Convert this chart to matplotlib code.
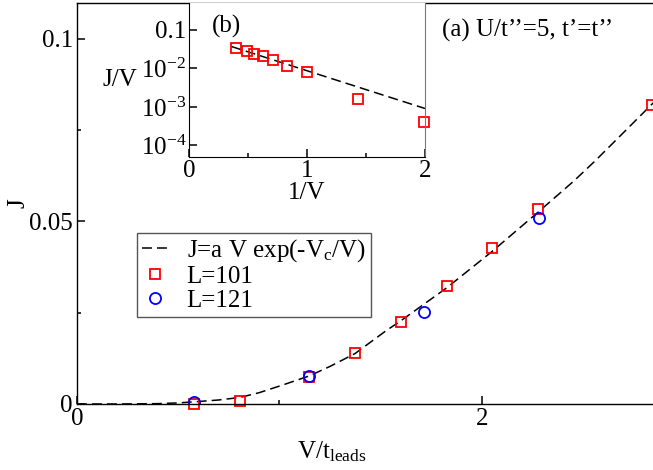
import numpy as np
import matplotlib
matplotlib.use('Agg')
import matplotlib.pyplot as plt
from matplotlib.lines import Line2D

plt.rcParams['font.family'] = ['Liberation Serif', 'DejaVu Serif']
plt.rcParams['mathtext.fontset'] = 'custom'
plt.rcParams['mathtext.rm'] = 'Liberation Serif'
plt.rcParams['mathtext.it'] = 'Liberation Serif:italic'
plt.rcParams['font.size'] = 18

# main panel data (V/t_leads, J)
V_101 = [0.58, 0.806, 1.148, 1.373, 1.60, 1.826, 2.051, 2.277, 2.84]
J_101 = [0.0001, 0.0009, 0.0073, 0.0139, 0.0225, 0.0323, 0.0426, 0.0535, 0.0819]
V_121 = [0.58, 1.148, 1.714, 2.281]
J_121 = [0.0006, 0.0077, 0.0253, 0.0510]

# dashed fit curve
fit_V = [0.0, 0.2, 0.4, 0.5, 0.58, 0.7, 0.806, 0.9, 1.016, 1.148, 1.25, 1.373,
         1.525, 1.6, 1.826, 2.051, 2.277, 2.453, 2.56, 2.86]
fit_J = [0.0, 0.0, 0.0001, 0.0003, 0.0006, 0.0011, 0.0018, 0.0031, 0.0052, 0.0077,
         0.0103, 0.0138, 0.0200, 0.0228, 0.0318, 0.0418, 0.0525, 0.0610, 0.0666, 0.0832]

# inset data (1/V, J/V)
invV = [0.397, 0.493, 0.552, 0.623, 0.708, 0.834, 1.0, 1.434, 1.99]
JV = [0.0336, 0.0275, 0.0235, 0.0204, 0.0168, 0.0119, 0.00787, 0.00161, 0.00041]
inset_fit_x = [0.36, 2.0]
inset_fit_y = [0.037, 0.00091]

W, H = 653, 470
fs = 18
fig = plt.figure(figsize=(W / 100, H / 100), dpi=100)

dash = (0, (6.5, 3.3))
ax = fig.add_axes([77 / W, 66 / H, 579 / W, 401 / H])
ax.plot(fit_V, fit_J, color='black', lw=1.1, linestyle=dash)
ax.plot(V_101, J_101, 's', ms=7.5, mfc='none', mec='red', mew=1.3, clip_on=False)
ax.plot(V_121, J_121, 'o', ms=8, mfc='none', mec='blue', mew=1.3)
ax.set_xlim(0, 2.86)
ax.set_ylim(0, 0.1098)
ax.set_xticks([0, 2])
ax.set_xticklabels(['0', '2'])
ax.set_xticks([1], minor=True)
ax.set_yticks([0, 0.05, 0.1])
ax.set_yticklabels(['0', '0.05', '0.1'])
ax.set_yticks([0.025, 0.075], minor=True)
ax.tick_params(which='both', direction='in', width=1.1, labelsize=fs)
ax.tick_params(which='major', length=6, pad=3)
ax.tick_params(which='minor', length=3)
for s in ax.spines.values():
    s.set_linewidth(1.0)
ax.set_xlabel(r'V/t$_\mathrm{leads}$', fontsize=fs)
ax.xaxis.set_label_coords(0.44, -0.088)
ax.set_ylabel('J', fontsize=fs, labelpad=0)

fig.text(442 / W, 1 - 37 / H, '(a) U/t\u2019\u2019=5, t\u2019=t\u2019\u2019', fontsize=fs,
         ha='left', va='baseline')

handles = [Line2D([], [], color='black', lw=1.1, linestyle=dash),
           Line2D([], [], marker='s', ls='none', ms=7.5, mfc='none', mec='red', mew=1.3),
           Line2D([], [], marker='o', ls='none', ms=8, mfc='none', mec='blue', mew=1.3)]
labels = [r'J=a V exp(-V$_\mathrm{c}$/V)', 'L=101', 'L=121']
leg = fig.legend(handles, labels, loc='upper left', bbox_to_anchor=(136.7 / W, 1 - 232.5 / H),
                 borderaxespad=0, fancybox=False, framealpha=1, edgecolor='#555555',
                 handlelength=1.1, handletextpad=0.7, labelspacing=0.05, borderpad=0.2,
                 fontsize=fs)
leg.get_frame().set_linewidth(1.0)

# inset
ax_in = fig.add_axes([189 / W, (H - 157) / H, 236 / W, 154 / H])
ax_in.semilogy(inset_fit_x, inset_fit_y, color='black', lw=1.1, linestyle=dash)
ax_in.semilogy(invV, JV, 's', ms=7.5, mfc='none', mec='red', mew=1.3, clip_on=False)
ax_in.set_xlim(0, 2)
ax_in.set_ylim(5e-5, 0.5)
ax_in.set_xticks([0, 1, 2])
ax_in.set_xticks([0.5, 1.5], minor=True)
ax_in.set_yticks([1e-1, 1e-2, 1e-3, 1e-4])
ax_in.set_yticklabels(['0.1', r'$10^{-2}$', r'$10^{-3}$', r'$10^{-4}$'])
ax_in.tick_params(which='both', direction='in', width=1.1, labelsize=fs)
ax_in.tick_params(which='major', length=6, pad=2)
ax_in.tick_params(which='minor', length=3)
ax_in.spines['right'].set_color('#777777')
ax_in.spines['top'].set_visible(False)
ax_in.set_xlabel('1/V', fontsize=fs, labelpad=0)
ax_in.set_ylabel('J/V', fontsize=fs, rotation=0, ha='right', va='center')
ax_in.yaxis.set_label_coords(-0.22, 0.5)
ax_in.text(211.7 / W, 1 - 33 / H, '(b)', transform=fig.transFigure, fontsize=fs,
           ha='left', va='baseline')

fig.savefig('out.png', dpi=100)
